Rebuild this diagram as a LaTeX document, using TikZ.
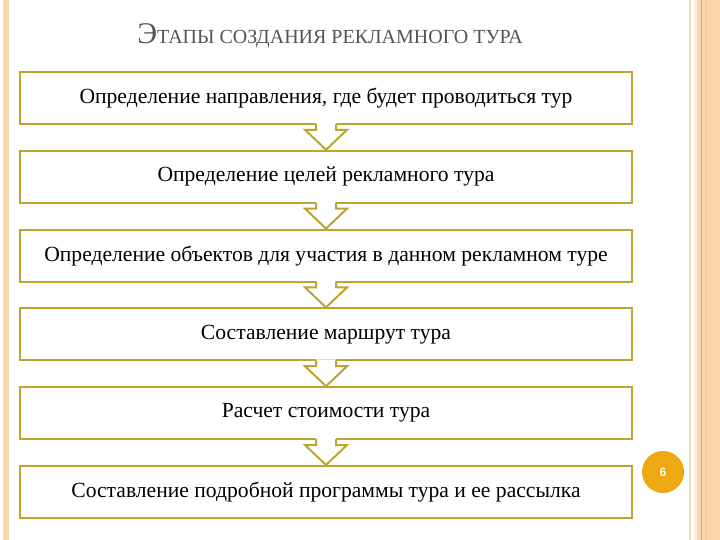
\documentclass[tikz,border=0pt]{standalone}
\usepackage{fontspec}
\setmainfont{Liberation Serif}
\newfontfamily\numfont{Liberation Sans}
\usetikzlibrary{calc}
\definecolor{boxgold}{RGB}{189,165,48}
\definecolor{peach}{RGB}{250,215,172}
\definecolor{paleline}{RGB}{240,222,176}
\definecolor{orangeline}{RGB}{232,168,96}
\definecolor{badge}{RGB}{238,168,18}
\definecolor{titlegray}{RGB}{85,85,85}
\def\stagearrow(#1)(#2){%
	\fill[white] ($(#1.south)+(-10,-2)$) -- ($(#2.north)+(-10,-20)$) -- ($(#2.north)+(-21,-20)$) -- (#2.north) -- ($(#2.north)+(21,-20)$) -- ($(#2.north)+(10,-20)$) -- ($(#1.south)+(10,-2)$) -- cycle;
	\draw[line width=2pt, color=boxgold, line join=miter] ($(#1.south)+(-10,-1)$) -- ($(#2.north)+(-10,-20)$) -- ($(#2.north)+(-21,-20)$) -- (#2.north) -- ($(#2.north)+(21,-20)$) -- ($(#2.north)+(10,-20)$) -- ($(#1.south)+(10,-1)$);}

\begin{document}
\begin{tikzpicture}[x=1pt, y=-1pt,
	stage/.style={draw=boxgold, line width=2pt, fill=white, minimum width=612pt, minimum height=52pt, inner sep=0pt, font=\fontsize{21.6}{24}\selectfont}]
			%%%%% START %%%%%
			
			\useasboundingbox (0, 0) rectangle (720, 540);
			\fill[white] (0, 0) rectangle (720, 540);
			
			% side strips
			\fill[peach] (3, 0) rectangle (9, 540);
			\fill[paleline] (689, 0) rectangle (691, 540);
			\fill[peach!40] (694, 0) rectangle (697, 540);
			\fill[peach] (697, 0) rectangle (720, 540);
			\fill[orangeline] (700.5, 0) rectangle (702, 540);
			\fill[peach!80!orangeline] (705, 0) rectangle (707, 540);
			
			\node[color=titlegray, anchor=base] (title) at (330, 44)
				{\fontsize{30}{34}\selectfont Э\fontsize{20}{24}\selectfont ТАПЫ СОЗДАНИЯ РЕКЛАМНОГО ТУРА};
			
			\node[stage] (s1) at (326, 98) {Определение направления, где будет проводиться тур};
			\node[stage] (s2) at (326, 176.8) {Определение целей рекламного тура};
			\node[stage] (s3) at (326, 255.6) {Определение объектов для участия в данном рекламном туре};
			\node[stage] (s4) at (326, 334.4) {Составление маршрут тура};
			\node[stage] (s5) at (326, 413.2) {Расчет стоимости тура};
			\node[stage] (s6) at (326, 492) {Составление подробной программы тура и ее рассылка};
			
			\stagearrow(s1)(s2)
			\stagearrow(s2)(s3)
			\stagearrow(s3)(s4)
			\stagearrow(s4)(s5)
			\stagearrow(s5)(s6)
			
			\node[circle, fill=badge, minimum size=42pt, inner sep=0pt, text=white, font=\numfont\bfseries\fontsize{12}{14}\selectfont] (page) at (663, 472) {6};
			
			%%%%% END %%%%%
\end{tikzpicture}
\end{document}
